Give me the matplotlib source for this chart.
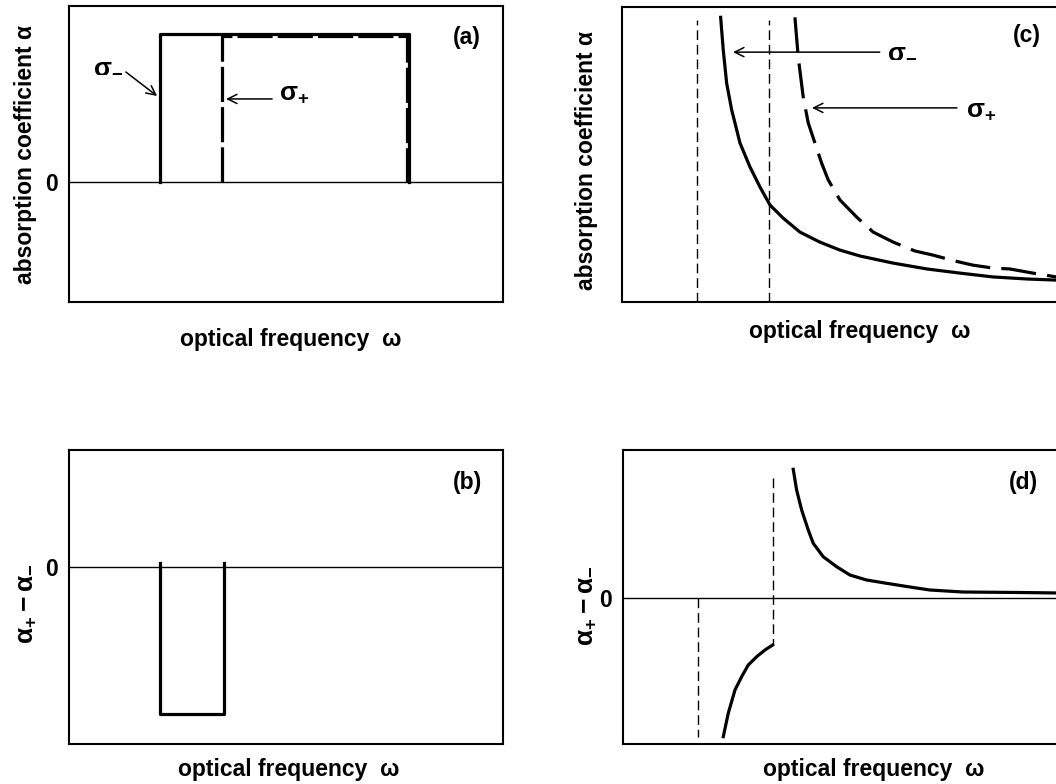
import numpy as np
import matplotlib.pyplot as plt

plt.rcParams['font.family'] = ['Liberation Sans', 'DejaVu Sans']
plt.rcParams['font.weight'] = 'bold'
plt.rcParams['axes.labelweight'] = 'bold'
plt.rcParams['font.size'] = 16.5
plt.rcParams['mathtext.fontset'] = 'custom'
plt.rcParams['mathtext.rm'] = 'Liberation Sans:bold'
plt.rcParams['mathtext.it'] = 'Liberation Sans:bold'
plt.rcParams['mathtext.bf'] = 'Liberation Sans:bold'

# (a) step absorption edges
sig_minus_a_x = [2.10, 2.10, 7.83, 7.83]
sig_minus_a_y = [0.0, 1.0, 1.0, 0.0]
sig_plus_a_x = [3.53, 3.53, 7.79, 7.79]
sig_plus_a_y = [0.0, 0.99, 0.99, 0.0]

# (b) difference
diff_b_x = [2.10, 2.10, 3.57, 3.57]
diff_b_y = [0.03, -1.0, -1.0, 0.03]

# (c) excitonic tails
sig_minus_c_x = [2.274, 2.334, 2.412, 2.528, 2.604, 2.719, 2.949, 3.180, 3.410, 3.710, 4.101,
                 4.562, 5.023, 5.484, 6.244, 7.028, 7.788, 8.548, 9.332, 10.05]
sig_minus_c_y = [0.965, 0.854, 0.742, 0.651, 0.607, 0.539, 0.458, 0.390, 0.329, 0.285, 0.237,
                 0.203, 0.176, 0.156, 0.132, 0.112, 0.098, 0.085, 0.078, 0.074]
sig_plus_c_x = [3.986, 4.062, 4.177, 4.293, 4.447, 4.601, 4.753, 5.023, 5.408, 5.790, 6.251,
                6.751, 7.166, 7.673, 8.088, 8.548, 8.940, 9.470, 10.05]
sig_plus_c_y = [0.965, 0.830, 0.695, 0.607, 0.539, 0.471, 0.414, 0.346, 0.288, 0.237, 0.203,
                0.173, 0.159, 0.139, 0.125, 0.115, 0.112, 0.098, 0.084]
edges_c = [1.73, 3.39]

# (d) difference
neg_d_x = [2.311, 2.426, 2.581, 2.735, 2.887, 3.081, 3.272, 3.449]
neg_d_y = [-1.387, -1.153, -0.92, -0.787, -0.67, -0.587, -0.52, -0.47]
pos_d_x = [3.924, 4.002, 4.118, 4.270, 4.385, 4.615, 4.924, 5.230, 5.615, 6.076, 6.613,
           7.074, 7.834, 9.147, 10.05]
pos_d_y = [1.287, 1.08, 0.88, 0.68, 0.547, 0.413, 0.313, 0.23, 0.18, 0.147, 0.11,
           0.08, 0.06, 0.055, 0.05]
edges_d = [1.73, 3.46]

W, H = 1056, 784
fig = plt.figure(figsize=(W / 100, H / 100), dpi=100)

def px_axes(left, top, right, bottom):
    return fig.add_axes([left / W, (H - bottom) / H, (right - left) / W, (bottom - top) / H])

def style(ax, zero_tick=True):
    for s in ax.spines.values():
        s.set_linewidth(1.5)
    ax.set_xticks([])
    if zero_tick:
        ax.set_yticks([0])
        ax.set_yticklabels(['0'])
        ax.tick_params(axis='y', length=0, pad=8)
    else:
        ax.set_yticks([])
    ax.axhline(0, color='black', lw=1.0)

lw = 2.3
sig_fs = 19
diff_fs = 19
arrow = dict(arrowstyle='->', lw=1.1, color='black', shrinkA=0, shrinkB=0)

# (a)
ax = px_axes(69, 6, 503, 302)
ax.set_xlim(0, 10)
ax.set_ylim(-0.81, 1.19)
style(ax)
ax.plot(sig_minus_a_x, sig_minus_a_y, color='black', lw=lw)
ax.plot(sig_plus_a_x, sig_plus_a_y, color='black', lw=lw, dashes=(11, 1.6))
ax.text(0.55, 0.79, r'$\sigma_{-}$', ha='left', va='center', fontsize=sig_fs)
ax.annotate('', xy=(2.03, 0.582), xytext=(1.31, 0.744), arrowprops=arrow)
ax.text(4.85, 0.60, r'$\sigma_{+}$', ha='left', va='center', fontsize=sig_fs)
ax.annotate('', xy=(3.62, 0.562), xytext=(4.68, 0.562), arrowprops=arrow)
ax.text(9.17, 0.98, '(a)', ha='center', va='center')
ax.set_ylabel('absorption coefficient α')
ax.yaxis.set_label_coords(-0.073, 0.5)
ax.set_xlabel('optical frequency  ω', va='top')
ax.xaxis.set_label_coords(0.51, -0.088)

# (b)
ax = px_axes(69, 450, 503, 744)
ax.set_xlim(0, 10)
ax.set_ylim(-1.204, 0.796)
style(ax)
ax.plot(diff_b_x, diff_b_y, color='black', lw=lw)
ax.text(9.19, 0.578, '(b)', ha='center', va='center')
ax.set_ylabel(r'$\alpha_{+} - \alpha_{-}$', fontsize=diff_fs)
ax.yaxis.set_label_coords(-0.072, 0.476)
ax.set_xlabel('optical frequency  ω', va='top')
ax.xaxis.set_label_coords(0.506, -0.048)

# (c)
ax = px_axes(622, 7, 1058, 302)
ax.set_xlim(0, 10.05)
ax.set_ylim(0, 1)
style(ax, zero_tick=False)
for e in edges_c:
    ax.plot([e, e], [0, 0.956], color='black', lw=1.0, dashes=(7, 3.5))
ax.plot(sig_minus_c_x, sig_minus_c_y, color='black', lw=lw)
ax.plot(sig_plus_c_x, sig_plus_c_y, color='black', lw=lw, dashes=(11, 3.5))
ax.text(6.10, 0.855, r'$\sigma_{-}$', ha='left', va='center', fontsize=sig_fs)
ax.annotate('', xy=(2.56, 0.847), xytext=(5.94, 0.847), arrowprops=arrow)
ax.text(7.94, 0.65, r'$\sigma_{+}$', ha='left', va='center', fontsize=sig_fs)
ax.annotate('', xy=(4.38, 0.658), xytext=(7.72, 0.658), arrowprops=arrow)
ax.text(9.33, 0.905, '(c)', ha='center', va='center')
ax.set_ylabel('absorption coefficient α')
ax.yaxis.set_label_coords(-0.055, 0.48)
ax.set_xlabel('optical frequency  ω', va='top')
ax.xaxis.set_label_coords(0.546, -0.061)

# (d)
ax = px_axes(623, 450, 1059, 744)
ax.set_xlim(0, 10.05)
ax.set_ylim(-1.46, 1.48)
style(ax)
ax.plot([edges_d[0], edges_d[0]], [0, -1.39], color='black', lw=1.0, dashes=(7, 3.5))
ax.plot([edges_d[1], edges_d[1]], [1.20, -0.47], color='black', lw=1.0, dashes=(7, 3.5))
ax.plot(neg_d_x, neg_d_y, color='black', lw=lw)
ax.plot(pos_d_x, pos_d_y, color='black', lw=lw)
ax.text(9.22, 1.16, '(d)', ha='center', va='center')
ax.set_ylabel(r'$\alpha_{+} - \alpha_{-}$', fontsize=diff_fs)
ax.yaxis.set_label_coords(-0.058, 0.47)
ax.set_xlabel('optical frequency  ω', va='top')
ax.xaxis.set_label_coords(0.574, -0.048)

fig.savefig('out.png', dpi=100)
